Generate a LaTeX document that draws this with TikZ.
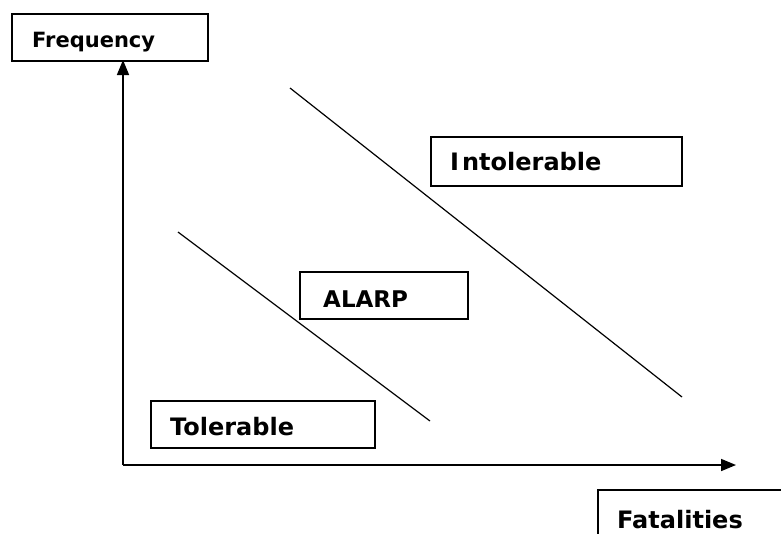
\documentclass[tikz,border=0pt]{standalone}
\usepackage{fontspec}
\setmainfont{DejaVu Sans}
\usetikzlibrary{arrows.meta}
\begin{document}
\begin{tikzpicture}[x=1pt,y=-1pt,
  label box/.style={draw,line width=1.6pt,minimum height=47pt,anchor=north west,inner sep=0pt},
  label text/.style={anchor=base west,inner sep=0pt,font=\bfseries\fontsize{24}{27}\selectfont},
  axis/.style={line width=1.6pt,-{Triangle[length=15pt,width=12pt]}},
  boundary/.style={line width=1.2pt}]
\useasboundingbox (0,0) rectangle (781,533);
\clip (0,0) rectangle (781,533);
% category boxes
\node[label box,minimum width=196pt] (freq) at (11,13) {};
\node[label text,font=\bfseries\fontsize{21}{24}\selectfont] (freqtext) at (32,47) {Frequency};
\node[label box,minimum width=224pt] (tol) at (150,400) {};
\node[label text] (toltext) at (170,435) {Tolerable};
\node[label box,minimum width=168pt] (alarp) at (299,271) {};
\node[label text,font=\bfseries\fontsize{23}{26}\selectfont] (alarptext) at (323,307) {ALARP};
\node[label box,minimum width=251pt,minimum height=49pt] (intol) at (430,136) {};
\node[label text] (intoltext) at (450,170) {I\kern3pt ntolerable};
% fatalities box, running off the page edge
\coordinate (fbl) at (598,540);
\coordinate (ftl) at (598,490);
\coordinate (ftr) at (790,490);
\draw[line width=1.6pt] (fbl) -- (ftl) -- (ftr);
\node[label text] (fattext) at (617,528) {Fatalities};
% axes
\coordinate (origin) at (123,465);
\coordinate (yend) at (123,60);
\coordinate (xend) at (736,465);
\draw[axis] (origin) -- (yend);
\draw[axis] (origin) -- (xend);
% region boundaries
\coordinate (a1) at (178,232);
\coordinate (a2) at (430,421);
\coordinate (b1) at (290,88);
\coordinate (b2) at (682,397);
\draw[boundary] (a1) -- (a2);
\draw[boundary] (b1) -- (b2);
\end{tikzpicture}
\end{document}
